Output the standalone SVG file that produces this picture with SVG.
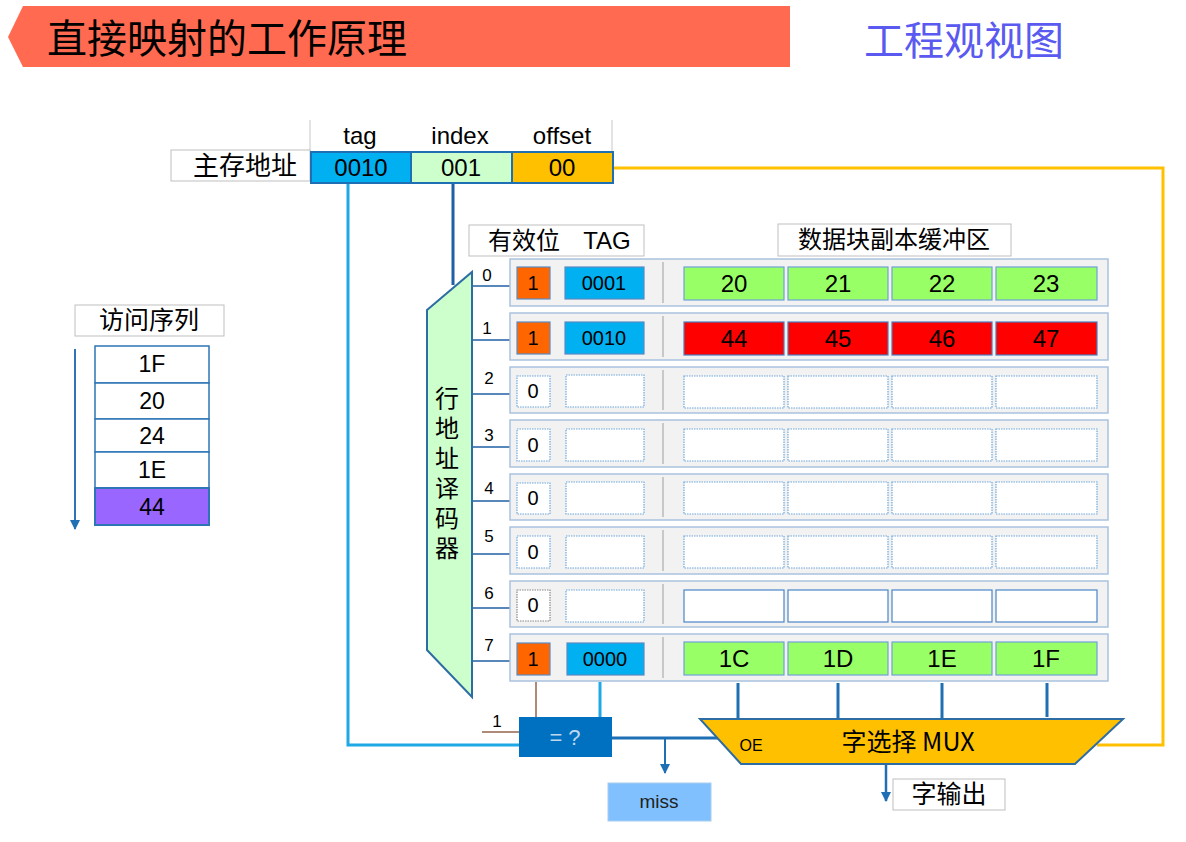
<svg xmlns="http://www.w3.org/2000/svg" width="1186" height="842" viewBox="0 0 1186 842">
<defs>
<style>
text{font-family:"Liberation Sans","Noto Sans CJK SC",sans-serif;fill:#000}
.cjk{font-family:"Noto Sans CJK SC","Liberation Sans",sans-serif}
.lbl{fill:#fff;stroke:#bfbfbf;stroke-width:1}
.panel{fill:#f2f2f2;stroke:#a9c2df;stroke-width:1.5}
.sep{stroke:#c8c8c8;stroke-width:2}
.v1{fill:#ff6600;stroke:#5b8bc4;stroke-width:1.2}
.t1{fill:#00b0f0;stroke:#5b8bc4;stroke-width:1.2}
.g{fill:#99ff66;stroke:#6fa0d8;stroke-width:1.2}
.r{fill:#ff0000;stroke:#4a7cc0;stroke-width:1.2}
.e{fill:#fff;stroke:#6fa8dc;stroke-width:1.2;stroke-dasharray:1.5 1}
.n{font-size:17px;text-anchor:middle}
.c18{font-size:20px;text-anchor:middle}
.c22{font-size:24px;text-anchor:middle}
.c24{font-size:24px;text-anchor:middle}
.blk{stroke:#1f6fb5;stroke-width:3;fill:none}
.thin{stroke:#1f5fa5;stroke-width:1.5;fill:none}
</style>
<marker id="ah" markerWidth="10" markerHeight="10" refX="9" refY="5" orient="auto" markerUnits="userSpaceOnUse" viewBox="0 0 10 10"><path d="M0,0 L10,5 L0,10 Z" fill="#1f6fb5"/></marker>
</defs>

<g id="title">
<polygon points="23,6 790,6 790,67 23,67 8,37" fill="#ff6a50"/>
<text x="47" y="53" class="cjk" font-size="40">直接映射的工作原理</text>
</g>
<g id="view">
<text x="864" y="55" class="cjk" font-size="40" style="fill:#5a5af0">工程观视图</text>
</g>

<g id="connectors">
<polyline points="613,168 1163,168 1163,745 1097,745" fill="none" stroke="#ffc000" stroke-width="3"/>
<polyline points="348,183 348,745 519,745" fill="none" stroke="#1ea8e6" stroke-width="3"/>
<line x1="453" y1="183" x2="453" y2="285" stroke="#1f5fa5" stroke-width="3"/>
<g class="thin">
<line x1="472" y1="286" x2="510" y2="286"/>
<line x1="472" y1="340" x2="510" y2="340"/>
<line x1="472" y1="394" x2="510" y2="394"/>
<line x1="472" y1="447" x2="510" y2="447"/>
<line x1="472" y1="501" x2="510" y2="501"/>
<line x1="472" y1="554" x2="510" y2="554"/>
<line x1="472" y1="608" x2="510" y2="608"/>
<line x1="472" y1="661" x2="510" y2="661"/>
</g>
<line x1="536" y1="682" x2="536" y2="717" stroke="#b08a78" stroke-width="2"/>
<line x1="482" y1="732" x2="519" y2="732" stroke="#b08a78" stroke-width="2"/>
<line x1="600" y1="682" x2="600" y2="717" stroke="#1ea8e6" stroke-width="3"/>
<line x1="612" y1="738" x2="718" y2="738" class="blk"/>
<line x1="665" y1="738" x2="665" y2="773" stroke="#1f6fb5" stroke-width="2" marker-end="url(#ah)"/>
<g class="blk">
<line x1="738" y1="683" x2="738" y2="719"/>
<line x1="838" y1="683" x2="838" y2="719"/>
<line x1="942" y1="683" x2="942" y2="719"/>
<line x1="1047" y1="683" x2="1047" y2="717"/>
</g>
<line x1="886" y1="764" x2="886" y2="801" stroke="#1f6fb5" stroke-width="2.5" marker-end="url(#ah)"/>
<line x1="75" y1="349" x2="75" y2="529" stroke="#2e75b6" stroke-width="2" marker-end="url(#ah)"/>
</g>

<g id="address">
<line x1="310" y1="120" x2="310" y2="152" stroke="#c8c8c8" stroke-width="1"/>
<line x1="612" y1="120" x2="612" y2="152" stroke="#c8c8c8" stroke-width="1"/>
<text x="360" y="144" class="c22">tag</text>
<text x="460" y="144" class="c22">index</text>
<text x="562" y="144" class="c22">offset</text>
<rect x="171" y="150" width="139" height="31" class="lbl"/>
<text x="245" y="175" class="cjk" font-size="26" text-anchor="middle">主存地址</text>
<rect x="311" y="152" width="100" height="31" fill="#00b0f0" stroke="#1f6fb5" stroke-width="2"/>
<rect x="411" y="152" width="101" height="31" fill="#ccffcc" stroke="#1f6fb5" stroke-width="2"/>
<rect x="512" y="152" width="101" height="31" fill="#ffc000" stroke="#1f6fb5" stroke-width="2"/>
<text x="361" y="176" class="c22">0010</text>
<text x="461" y="176" class="c22">001</text>
<text x="562" y="176" class="c22">00</text>
</g>

<g id="headers">
<rect x="469" y="225" width="175" height="31" class="lbl"/>
<text x="524" y="249" class="cjk c24">有效位</text>
<text x="607" y="249" class="c22">TAG</text>
<rect x="778" y="224" width="233" height="32" class="lbl"/>
<text x="894" y="248" class="cjk c24">数据块副本缓冲区</text>
</g>

<g id="decoder">
<polygon points="427,310 472,272 472,697 427,650" fill="#ccffcc" stroke="#2e6da4" stroke-width="2"/>
<g class="cjk" font-size="24" text-anchor="middle">
<text x="447" y="407">行</text>
<text x="447" y="437">地</text>
<text x="447" y="467">址</text>
<text x="447" y="497">译</text>
<text x="447" y="527">码</text>
<text x="447" y="557">器</text>
</g>
</g>

<g id="rownums">
<text x="487" y="281" class="n">0</text>
<text x="487" y="334" class="n">1</text>
<text x="489" y="384" class="n">2</text>
<text x="489" y="441" class="n">3</text>
<text x="489" y="494" class="n">4</text>
<text x="489" y="542" class="n">5</text>
<text x="489" y="599" class="n">6</text>
<text x="489" y="651" class="n">7</text>
<text x="497" y="727" class="n">1</text>
</g>

<g id="row0" transform="translate(0,259)">
<rect x="510" y="0" width="598" height="47" class="panel"/>
<line x1="663" y1="3" x2="663" y2="44" class="sep"/>
<rect x="517" y="8" width="33" height="32" class="v1"/><text x="533" y="31" class="c18">1</text>
<rect x="565" y="8" width="79" height="32" class="t1"/><text x="604" y="31" class="c18">0001</text>
<rect x="684" y="8" width="100" height="33" class="g"/><text x="734" y="33" class="c22">20</text>
<rect x="788" y="8" width="100" height="33" class="g"/><text x="838" y="33" class="c22">21</text>
<rect x="892" y="8" width="100" height="33" class="g"/><text x="942" y="33" class="c22">22</text>
<rect x="996" y="8" width="101" height="33" class="g"/><text x="1046" y="33" class="c22">23</text>
</g>
<g id="row1" transform="translate(0,313)">
<rect x="510" y="0" width="598" height="47" class="panel"/>
<line x1="663" y1="3" x2="663" y2="44" class="sep"/>
<rect x="517" y="9" width="33" height="32" class="v1"/><text x="533" y="32" class="c18">1</text>
<rect x="565" y="9" width="79" height="32" class="t1"/><text x="604" y="32" class="c18">0010</text>
<rect x="684" y="9" width="100" height="33" class="r"/><text x="734" y="34" class="c22">44</text>
<rect x="788" y="9" width="100" height="33" class="r"/><text x="838" y="34" class="c22">45</text>
<rect x="892" y="9" width="100" height="33" class="r"/><text x="942" y="34" class="c22">46</text>
<rect x="996" y="9" width="101" height="33" class="r"/><text x="1046" y="34" class="c22">47</text>
</g>
<g id="row2" transform="translate(0,367)">
<rect x="510" y="0" width="598" height="46" class="panel"/>
<line x1="663" y1="3" x2="663" y2="43" class="sep"/>
<rect x="517" y="9" width="33" height="31" class="e"/><text x="533" y="31" class="c18">0</text>
<rect x="566" y="8" width="78" height="32" class="e"/>
<rect x="684" y="9" width="100" height="32" class="e"/>
<rect x="788" y="9" width="100" height="32" class="e"/>
<rect x="892" y="9" width="100" height="32" class="e"/>
<rect x="996" y="9" width="101" height="32" class="e"/>
</g>
<g id="row3" transform="translate(0,420)">
<rect x="510" y="0" width="598" height="47" class="panel"/>
<line x1="663" y1="3" x2="663" y2="44" class="sep"/>
<rect x="517" y="9" width="33" height="32" class="e"/><text x="533" y="32" class="c18">0</text>
<rect x="566" y="9" width="78" height="32" class="e"/>
<rect x="684" y="9" width="100" height="32" class="e"/>
<rect x="788" y="9" width="100" height="32" class="e"/>
<rect x="892" y="9" width="100" height="32" class="e"/>
<rect x="996" y="9" width="101" height="32" class="e"/>
</g>
<g id="row4" transform="translate(0,474)">
<rect x="510" y="0" width="598" height="46" class="panel"/>
<line x1="663" y1="3" x2="663" y2="43" class="sep"/>
<rect x="517" y="9" width="33" height="31" class="e"/><text x="533" y="31" class="c18">0</text>
<rect x="566" y="8" width="78" height="32" class="e"/>
<rect x="684" y="8" width="100" height="32" class="e"/>
<rect x="788" y="8" width="100" height="32" class="e"/>
<rect x="892" y="8" width="100" height="32" class="e"/>
<rect x="996" y="8" width="101" height="32" class="e"/>
</g>
<g id="row5" transform="translate(0,527)">
<rect x="510" y="0" width="598" height="47" class="panel"/>
<line x1="663" y1="3" x2="663" y2="44" class="sep"/>
<rect x="517" y="9" width="33" height="32" class="e"/><text x="533" y="32" class="c18">0</text>
<rect x="566" y="9" width="78" height="32" class="e"/>
<rect x="684" y="9" width="100" height="32" class="e"/>
<rect x="788" y="9" width="100" height="32" class="e"/>
<rect x="892" y="9" width="100" height="32" class="e"/>
<rect x="996" y="9" width="101" height="32" class="e"/>
</g>
<g id="row6" transform="translate(0,581)">
<rect x="510" y="0" width="598" height="46" class="panel"/>
<line x1="663" y1="3" x2="663" y2="43" class="sep"/>
<rect x="517" y="9" width="33" height="31" fill="#fff" stroke="#888" stroke-width="1.2" stroke-dasharray="1.5 1"/><text x="533" y="31" class="c18">0</text>
<rect x="566" y="9" width="78" height="32" class="e"/>
<rect x="684" y="9" width="100" height="32" fill="#fff" stroke="#4a86c8" stroke-width="1.2"/>
<rect x="788" y="9" width="100" height="32" fill="#fff" stroke="#4a86c8" stroke-width="1.2"/>
<rect x="892" y="9" width="100" height="32" fill="#fff" stroke="#4a86c8" stroke-width="1.2"/>
<rect x="996" y="9" width="101" height="32" fill="#fff" stroke="#4a86c8" stroke-width="1.2"/>
</g>
<g id="row7" transform="translate(0,634)">
<rect x="510" y="0" width="598" height="47" class="panel"/>
<line x1="663" y1="3" x2="663" y2="44" class="sep"/>
<rect x="517" y="9" width="33" height="32" class="v1"/><text x="533" y="32" class="c18">1</text>
<rect x="567" y="9" width="77" height="32" class="t1"/><text x="605" y="32" class="c18">0000</text>
<rect x="684" y="8" width="100" height="33" class="g"/><text x="734" y="33" class="c22">1C</text>
<rect x="788" y="8" width="100" height="33" class="g"/><text x="838" y="33" class="c22">1D</text>
<rect x="892" y="8" width="100" height="33" class="g"/><text x="942" y="33" class="c22">1E</text>
<rect x="996" y="8" width="101" height="33" class="g"/><text x="1046" y="33" class="c22">1F</text>
</g>

<g id="compare">
<rect x="519" y="717" width="93" height="40" fill="#0070c0"/>
<text x="565" y="745" font-size="22" text-anchor="middle" style="fill:#bdd7ee">= ?</text>
</g>
<g id="miss">
<rect x="608" y="783" width="103" height="38" fill="#80c0ff" stroke="#a8cdee" stroke-width="1"/>
<text x="659" y="808" font-size="19" text-anchor="middle" style="fill:#222">miss</text>
</g>
<g id="mux">
<polygon points="700,719 1123,719 1075,764 741,764" fill="#ffc000" stroke="#2e6da4" stroke-width="2"/>
<text x="751" y="751" font-size="16" text-anchor="middle">OE</text>
<text x="908" y="751" class="cjk" font-size="25" text-anchor="middle">字选择 MUX</text>
</g>
<g id="output">
<rect x="893" y="779" width="112" height="31" class="lbl"/>
<text x="949" y="803" class="cjk" font-size="25" text-anchor="middle">字输出</text>
</g>

<g id="sequence">
<rect x="75" y="305" width="149" height="31" class="lbl"/>
<text x="149" y="329" class="cjk" font-size="25" text-anchor="middle">访问序列</text>
<g stroke="#2e75b6" stroke-width="1.5">
<rect x="95" y="346" width="114" height="37" fill="#fff"/>
<rect x="95" y="383" width="114" height="36" fill="#fff"/>
<rect x="95" y="419" width="114" height="33" fill="#fff"/>
<rect x="95" y="452" width="114" height="36" fill="#fff"/>
<rect x="95" y="488" width="114" height="37" fill="#9966ff" stroke-width="2"/>
</g>
<text x="152" y="372" font-size="23" text-anchor="middle">1F</text>
<text x="152" y="409" font-size="23" text-anchor="middle">20</text>
<text x="152" y="444" font-size="23" text-anchor="middle">24</text>
<text x="152" y="478" font-size="23" text-anchor="middle">1E</text>
<text x="152" y="515" font-size="23" text-anchor="middle">44</text>
</g>
</svg>
